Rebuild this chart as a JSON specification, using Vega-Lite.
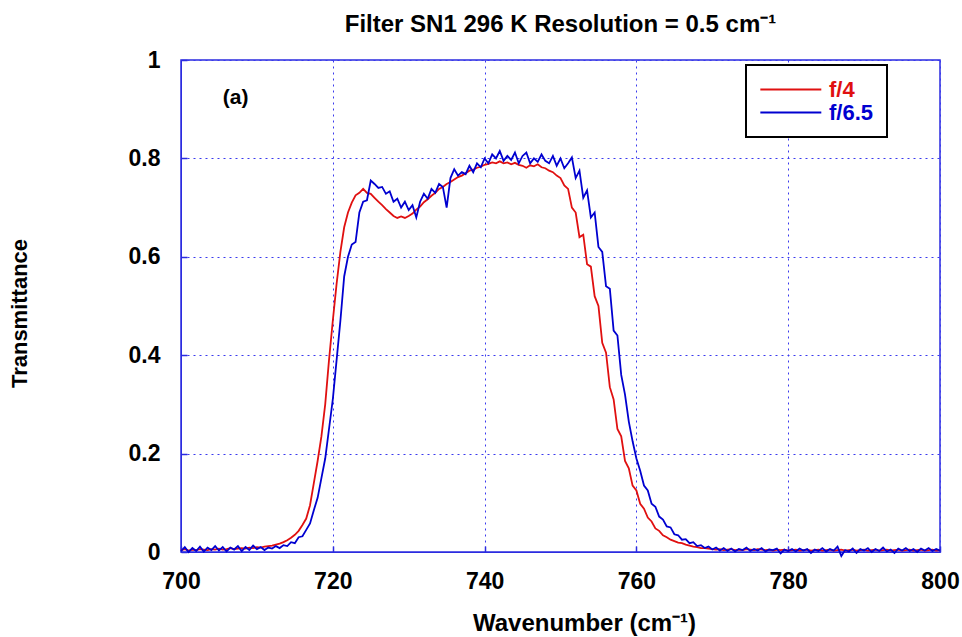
{
  "$schema": "https://vega.github.io/schema/vega-lite/v6.json",
  "width": 759,
  "height": 492,
  "autosize": {"type": "none"},
  "padding": {"left": 181, "top": 60, "right": 22, "bottom": 85},
  "background": "white",
  "title": {"text": "Filter SN1 296 K Resolution = 0.5 cm⁻¹", "font": "Liberation Sans", "fontSize": 24, "fontWeight": "bold", "color": "black", "anchor": "middle", "offset": 12},
  "config": {
    "view": {"stroke": "#2b2be0", "strokeWidth": 1.5},
    "axis": {"labelFont": "Liberation Sans", "labelFontSize": 23, "labelFontWeight": "bold", "labelColor": "black", "labelFlush": false, "titleFont": "Liberation Sans", "titleFontWeight": "bold", "titleColor": "black", "domainColor": "#2b2be0", "tickColor": "#2b2be0", "gridColor": "#3a3aee", "gridDash": [2, 4], "gridWidth": 1, "gridOpacity": 1}
  },
  "datasets": {
    "spec": [
{"w":700,"a":0.004,"b":0.002},{"w":700.5,"a":0.006,"b":0.010},{"w":701,"a":0.003,"b":0.000},{"w":701.5,"a":0.005,"b":0.008},
{"w":702,"a":0.004,"b":0.002},{"w":702.5,"a":0.006,"b":0.011},{"w":703,"a":0.005,"b":0.001},{"w":703.5,"a":0.004,"b":0.009},
{"w":704,"a":0.006,"b":0.004},{"w":704.5,"a":0.005,"b":0.012},{"w":705,"a":0.007,"b":0.003},{"w":705.5,"a":0.005,"b":0.010},
{"w":706,"a":0.006,"b":0.001},{"w":706.5,"a":0.008,"b":0.009},{"w":707,"a":0.006,"b":0.005},{"w":707.5,"a":0.007,"b":0.012},
{"w":708,"a":0.008,"b":0.002},{"w":708.5,"a":0.007,"b":0.010},{"w":709,"a":0.009,"b":0.004},{"w":709.5,"a":0.008,"b":0.013},
{"w":710,"a":0.010,"b":0.006},{"w":710.5,"a":0.009,"b":0.010},{"w":711,"a":0.011,"b":0.004},{"w":711.5,"a":0.012,"b":0.009},
{"w":712,"a":0.013,"b":0.007},{"w":712.5,"a":0.015,"b":0.012},{"w":713,"a":0.017,"b":0.008},{"w":713.5,"a":0.020,"b":0.014},
{"w":714,"a":0.024,"b":0.012},{"w":714.5,"a":0.029,"b":0.020},{"w":715,"a":0.035,"b":0.018},{"w":715.5,"a":0.043,"b":0.030},
{"w":716,"a":0.055,"b":0.032},{"w":716.5,"a":0.068,"b":0.045},{"w":717,"a":0.095,"b":0.058},{"w":717.5,"a":0.140,"b":0.085},
{"w":718,"a":0.185,"b":0.110},{"w":718.5,"a":0.235,"b":0.150},{"w":719,"a":0.300,"b":0.190},{"w":719.5,"a":0.390,"b":0.250},
{"w":720,"a":0.470,"b":0.310},{"w":720.5,"a":0.545,"b":0.390},{"w":721,"a":0.610,"b":0.470},{"w":721.5,"a":0.660,"b":0.560},
{"w":722,"a":0.690,"b":0.600},{"w":722.5,"a":0.710,"b":0.625},{"w":723,"a":0.725,"b":0.630},{"w":723.5,"a":0.730,"b":0.690},
{"w":724,"a":0.738,"b":0.712},{"w":724.5,"a":0.730,"b":0.715},{"w":725,"a":0.728,"b":0.755},{"w":725.5,"a":0.720,"b":0.748},
{"w":726,"a":0.712,"b":0.740},{"w":726.5,"a":0.705,"b":0.742},{"w":727,"a":0.697,"b":0.728},{"w":727.5,"a":0.690,"b":0.733},
{"w":728,"a":0.683,"b":0.712},{"w":728.5,"a":0.679,"b":0.718},{"w":729,"a":0.682,"b":0.700},{"w":729.5,"a":0.679,"b":0.712},
{"w":730,"a":0.683,"b":0.695},{"w":730.5,"a":0.688,"b":0.705},{"w":731,"a":0.696,"b":0.680},{"w":731.5,"a":0.702,"b":0.712},
{"w":732,"a":0.711,"b":0.728},{"w":732.5,"a":0.717,"b":0.718},{"w":733,"a":0.724,"b":0.738},{"w":733.5,"a":0.730,"b":0.730},
{"w":734,"a":0.738,"b":0.748},{"w":734.5,"a":0.742,"b":0.742},{"w":735,"a":0.748,"b":0.700},{"w":735.5,"a":0.752,"b":0.760},
{"w":736,"a":0.757,"b":0.778},{"w":736.5,"a":0.762,"b":0.765},{"w":737,"a":0.765,"b":0.772},{"w":737.5,"a":0.770,"b":0.768},
{"w":738,"a":0.775,"b":0.785},{"w":738.5,"a":0.777,"b":0.772},{"w":739,"a":0.781,"b":0.790},{"w":739.5,"a":0.783,"b":0.782},
{"w":740,"a":0.787,"b":0.800},{"w":740.5,"a":0.789,"b":0.790},{"w":741,"a":0.792,"b":0.808},{"w":741.5,"a":0.790,"b":0.800},
{"w":742,"a":0.794,"b":0.815},{"w":742.5,"a":0.790,"b":0.795},{"w":743,"a":0.792,"b":0.805},{"w":743.5,"a":0.788,"b":0.797},
{"w":744,"a":0.791,"b":0.812},{"w":744.5,"a":0.787,"b":0.790},{"w":745,"a":0.785,"b":0.805},{"w":745.5,"a":0.781,"b":0.812},
{"w":746,"a":0.786,"b":0.790},{"w":746.5,"a":0.784,"b":0.800},{"w":747,"a":0.788,"b":0.793},{"w":747.5,"a":0.782,"b":0.808},
{"w":748,"a":0.780,"b":0.795},{"w":748.5,"a":0.775,"b":0.790},{"w":749,"a":0.772,"b":0.805},{"w":749.5,"a":0.765,"b":0.785},
{"w":750,"a":0.760,"b":0.800},{"w":750.5,"a":0.745,"b":0.780},{"w":751,"a":0.738,"b":0.790},{"w":751.5,"a":0.700,"b":0.802},
{"w":752,"a":0.690,"b":0.760},{"w":752.5,"a":0.640,"b":0.775},{"w":753,"a":0.645,"b":0.720},{"w":753.5,"a":0.585,"b":0.735},
{"w":754,"a":0.580,"b":0.680},{"w":754.5,"a":0.520,"b":0.690},{"w":755,"a":0.500,"b":0.620},{"w":755.5,"a":0.425,"b":0.610},
{"w":756,"a":0.405,"b":0.540},{"w":756.5,"a":0.335,"b":0.535},{"w":757,"a":0.310,"b":0.450},{"w":757.5,"a":0.250,"b":0.440},
{"w":758,"a":0.235,"b":0.360},{"w":758.5,"a":0.185,"b":0.320},{"w":759,"a":0.170,"b":0.265},{"w":759.5,"a":0.135,"b":0.225},
{"w":760,"a":0.125,"b":0.190},{"w":760.5,"a":0.098,"b":0.165},{"w":761,"a":0.088,"b":0.135},{"w":761.5,"a":0.070,"b":0.125},
{"w":762,"a":0.062,"b":0.098},{"w":762.5,"a":0.048,"b":0.092},{"w":763,"a":0.043,"b":0.072},{"w":763.5,"a":0.034,"b":0.066},
{"w":764,"a":0.030,"b":0.052},{"w":764.5,"a":0.025,"b":0.050},{"w":765,"a":0.022,"b":0.036},{"w":765.5,"a":0.019,"b":0.034},
{"w":766,"a":0.018,"b":0.025},{"w":766.5,"a":0.015,"b":0.026},{"w":767,"a":0.013,"b":0.018},{"w":767.5,"a":0.011,"b":0.020},
{"w":768,"a":0.010,"b":0.012},{"w":768.5,"a":0.008,"b":0.014},{"w":769,"a":0.008,"b":0.008},{"w":769.5,"a":0.007,"b":0.011},
{"w":770,"a":0.006,"b":0.005},{"w":770.5,"a":0.005,"b":0.009},{"w":771,"a":0.006,"b":0.003},{"w":771.5,"a":0.004,"b":0.008},
{"w":772,"a":0.005,"b":0.002},{"w":772.5,"a":0.006,"b":0.007},{"w":773,"a":0.004,"b":0.001},{"w":773.5,"a":0.005,"b":0.006},
{"w":774,"a":0.004,"b":0.004},{"w":774.5,"a":0.006,"b":0.009},{"w":775,"a":0.005,"b":0.002},{"w":775.5,"a":0.004,"b":0.006},
{"w":776,"a":0.006,"b":0.003},{"w":776.5,"a":0.005,"b":0.008},{"w":777,"a":0.004,"b":0.001},{"w":777.5,"a":0.005,"b":0.005},
{"w":778,"a":0.003,"b":0.004},{"w":778.5,"a":0.005,"b":0.007},{"w":779,"a":0.004,"b":-0.003},{"w":779.5,"a":0.005,"b":0.005},
{"w":780,"a":0.003,"b":0.002},{"w":780.5,"a":0.004,"b":0.006},{"w":781,"a":0.005,"b":0.001},{"w":781.5,"a":0.003,"b":0.007},
{"w":782,"a":0.004,"b":0.003},{"w":782.5,"a":0.005,"b":0.006},{"w":783,"a":0.003,"b":-0.002},{"w":783.5,"a":0.004,"b":0.005},
{"w":784,"a":0.005,"b":0.002},{"w":784.5,"a":0.003,"b":0.008},{"w":785,"a":0.004,"b":0.001},{"w":785.5,"a":0.005,"b":0.006},
{"w":786,"a":0.003,"b":0.003},{"w":786.5,"a":0.004,"b":0.011},{"w":787,"a":0.005,"b":-0.008},{"w":787.5,"a":0.003,"b":0.004},
{"w":788,"a":0.004,"b":0.001},{"w":788.5,"a":0.005,"b":0.007},{"w":789,"a":0.003,"b":-0.002},{"w":789.5,"a":0.004,"b":0.006},
{"w":790,"a":0.005,"b":0.003},{"w":790.5,"a":0.003,"b":0.008},{"w":791,"a":0.004,"b":0.000},{"w":791.5,"a":0.005,"b":0.006},
{"w":792,"a":0.003,"b":0.002},{"w":792.5,"a":0.004,"b":0.009},{"w":793,"a":0.005,"b":0.001},{"w":793.5,"a":0.003,"b":0.005},
{"w":794,"a":0.004,"b":-0.002},{"w":794.5,"a":0.005,"b":0.007},{"w":795,"a":0.003,"b":0.003},{"w":795.5,"a":0.004,"b":0.008},
{"w":796,"a":0.005,"b":0.002},{"w":796.5,"a":0.003,"b":0.006},{"w":797,"a":0.004,"b":0.000},{"w":797.5,"a":0.005,"b":0.007},
{"w":798,"a":0.003,"b":0.003},{"w":798.5,"a":0.004,"b":0.008},{"w":799,"a":0.005,"b":0.002},{"w":799.5,"a":0.003,"b":0.006},
{"w":800,"a":0.004,"b":0.003}
    ],
    "note": [{"w": 707.2, "T": 0.922, "label": "(a)"}]
  },
  "layer": [
    {
      "data": {"name": "spec"},
      "transform": [{"fold": ["a", "b"], "as": ["s", "T"]}],
      "mark": {"type": "line", "strokeWidth": 1.8, "clip": false},
      "encoding": {
        "x": {"field": "w", "type": "quantitative", "scale": {"domain": [700, 800], "nice": false, "zero": false},
              "axis": {"title": "Wavenumber (cm⁻¹)", "titleFontSize": 24, "titleX": 403, "values": [700, 720, 740, 760, 780, 800], "grid": true, "tickSize": -6, "labelPadding": 24, "titlePadding": 18, "tickWidth": 1.5}},
        "y": {"field": "T", "type": "quantitative", "scale": {"domain": [0, 1], "nice": false},
              "axis": {"title": "Transmittance", "titleFontSize": 22, "titleY": 253, "values": [0, 0.2, 0.4, 0.6, 0.8, 1], "labelExpr": "'' + datum.value", "grid": true, "tickSize": -6, "labelPadding": 27, "titlePadding": 97, "tickWidth": 1.5}},
        "color": {"field": "s", "type": "nominal", "scale": {"domain": ["a", "b"], "range": ["#e01010", "#0000d0"]},
          "legend": {"title": null, "orient": "none", "legendX": 565, "legendY": 5, "strokeColor": "black", "fillColor": "white", "padding": 13,
            "symbolType": "M-1,0H5", "symbolSize": 413, "symbolStrokeWidth": 2, "labelFont": "Liberation Sans", "labelFontSize": 22, "labelFontWeight": "bold", "labelOffset": 47, "rowPadding": 0,
            "labelExpr": "datum.value == 'a' ? 'f/4' : 'f/6.5'",
            "encode": {"legend": {"update": {"strokeWidth": {"value": 2}}}, "labels": {"update": {"fill": {"signal": "datum.value == 'a' ? '#e01010' : '#0000d0'"}}}}}},
        "order": {"field": "w", "type": "quantitative"}
      }
    },
    {
      "data": {"name": "note"},
      "mark": {"type": "text", "font": "Liberation Sans", "fontSize": 21, "fontWeight": "bold", "color": "black"},
      "encoding": {
        "x": {"field": "w", "type": "quantitative"},
        "y": {"field": "T", "type": "quantitative"},
        "text": {"field": "label"}
      }
    }
  ]
}
